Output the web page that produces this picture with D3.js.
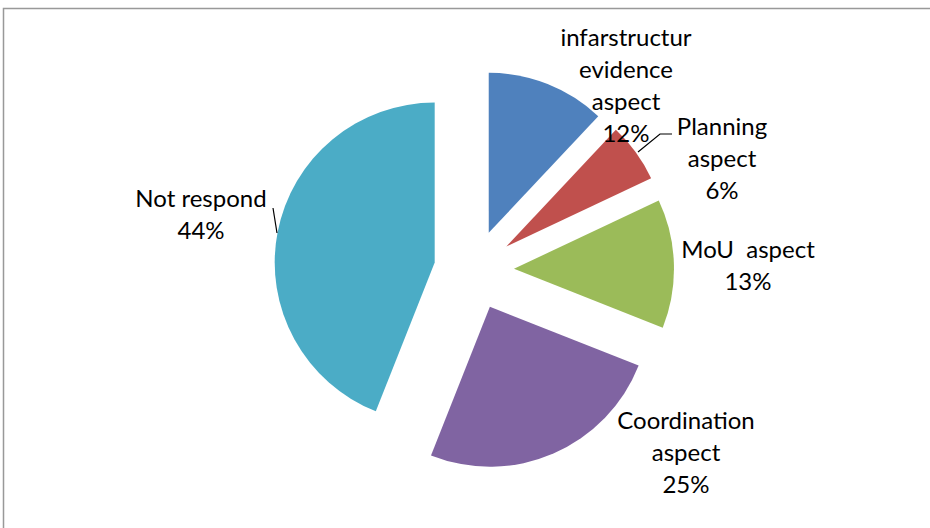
<!DOCTYPE html>
<meta charset="utf-8">
<script src="https://d3js.org/d3.v7.min.js"></script>
<style>
  body { margin: 0; background: #fff; }
  text { font-family: Lato, "Open Sans", sans-serif; font-size: 24px; fill: #000; white-space: pre; }
</style>
<body>
<div id="my_dataviz"></div>
<script>
    // data
    var categories = ["infarstructur evidence aspect", "Planning aspect", "MoU  aspect", "Coordination aspect", "Not respond"]
    var values = [12, 6, 13, 25, 44]
    var labelLines = [
        ["infarstructur", "evidence", "aspect", "12%"],
        ["Planning", "aspect", "6%"],
        ["MoU  aspect", "13%"],
        ["Coordination", "aspect", "25%"],
        ["Not respond", "44%"]
    ]
    var colors = ["#4F81BD", "#C0504D", "#9BBB59", "#8064A2", "#4BACC6"]

    var width = 930
        height = 528
        radius = 160
        explode = 40
        cx = 474
        cy = 270
        lineH = 32

    // label centre offsets from pie centre (first line centre)
    var labelOffset = [[152, -232], [248, -143], [274, -20], [212, 151], [-273, -71]]

    var svg = d3.select("#my_dataviz")
        .append("svg")
        .attr("width", width)
        .attr("height", height)

    // chart border
    svg.append("rect")
        .attr("x", 3.5).attr("y", 8.5)
        .attr("width", 940).attr("height", 540)
        .attr("fill", "none")
        .attr("stroke", "#999")
        .attr("stroke-width", 1.5)

    var g = svg.append("g")
        .attr("transform", "translate(" + cx + "," + cy + ")")

    var pie = d3.pie().sort(null).value(function(d) { return d.value })
    var data_ready = pie(categories.map(function(c, i) { return {key: c, value: values[i], i: i} }))

    var arc = d3.arc().innerRadius(0).outerRadius(radius)

    function shift(d) {
        var a = (d.startAngle + d.endAngle) / 2
        return [Math.sin(a) * explode, -Math.cos(a) * explode]
    }

    g.selectAll('slices')
        .data(data_ready)
        .enter()
        .append('path')
        .attr('d', arc)
        .attr('transform', function(d) { return "translate(" + shift(d) + ")" })
        .attr('fill', function(d) { return colors[d.data.i] })

    // leader lines
    var leaders = [
        null,
        [[198, -136], [186, -136], [164, -118]],
        null,
        null,
        [[-201, -62], [-197, -37]]
    ]
    leaders.forEach(function(pts) {
        if (!pts) return
        g.append("path")
            .attr("d", d3.line()(pts))
            .attr("fill", "none")
            .attr("stroke", "#000")
            .attr("stroke-width", 1.2)
    })

    // labels
    data_ready.forEach(function(d) {
        var i = d.data.i
        var t = g.append("text")
            .attr("text-anchor", "middle")
            .attr("x", labelOffset[i][0])
            .attr("y", labelOffset[i][1])
        labelLines[i].forEach(function(l, k) {
            t.append("tspan")
                .attr("x", labelOffset[i][0])
                .attr("y", labelOffset[i][1] + k * lineH)
                .attr("dy", "0.35em")
                .text(l)
        })
    })
</script>
</body>
